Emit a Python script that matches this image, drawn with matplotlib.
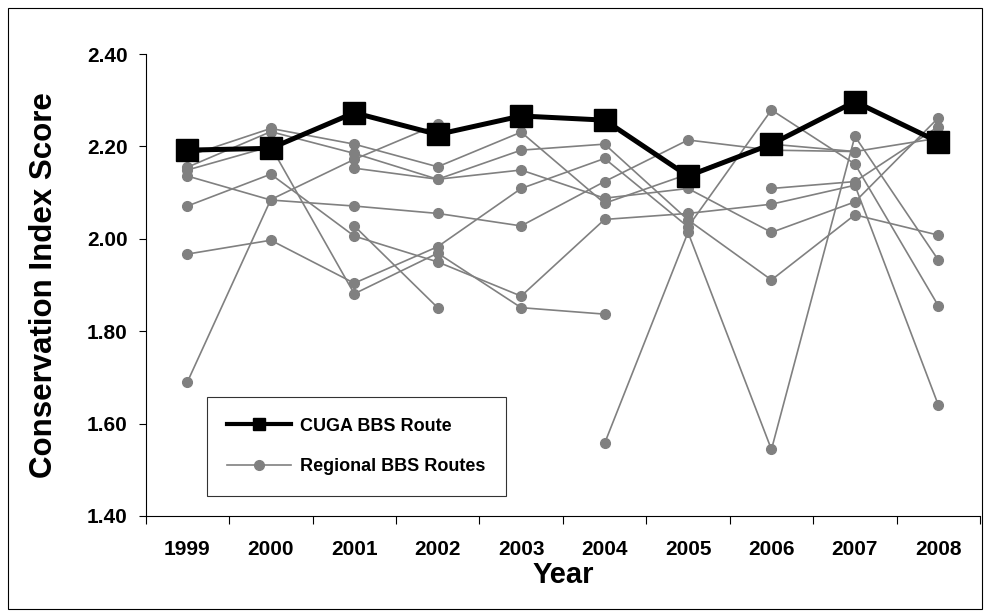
import numpy as np
import matplotlib
matplotlib.use("Agg")
import matplotlib.pyplot as plt
from matplotlib.patches import Rectangle

years = ["1999", "2000", "2001", "2002", "2003", "2004", "2005", "2006", "2007", "2008"]

# CUGA route
cuga = [2.192, 2.196, 2.273, 2.226, 2.266, 2.257, 2.136, 2.205, 2.297, 2.210]

# Regional routes (None = no survey that year)
route_a = [1.690, 2.085, 2.172, 2.248, None, None, None, None, None, None]
route_b = [2.136, 2.084, 2.071, 2.055, 2.028, 2.124, 2.214, 2.192, 2.189, 2.218]
route_c = [2.071, 2.140, 2.006, 1.950, 1.876, 2.042, 2.055, 2.075, 2.116, 1.640]
route_d = [1.967, 1.997, 1.904, 1.983, 2.109, 2.174, 2.026, 2.279, 2.162, 1.855]
route_e = [2.179, 2.239, 2.205, 2.156, 2.231, 2.077, 2.140, 2.205, 2.189, None]
route_f = [2.155, 2.232, 2.185, 2.129, 2.192, 2.205, 2.041, 1.911, 2.052, 2.008]
route_g = [2.149, 2.200, 1.881, 1.969, 1.851, 1.837, None, None, None, None]
route_h = [None, None, 2.153, 2.129, 2.149, 2.088, 2.109, 2.014, 2.080, 2.262]
route_i = [None, None, 2.028, 1.851, None, None, None, None, None, None]
route_k = [None, None, None, None, None, 1.557, 2.014, 1.544, 2.222, 1.954]
route_n = [None, None, None, None, None, None, None, 2.109, 2.124, 2.243]

regional = [route_a, route_b, route_c, route_d, route_e, route_f,
            route_g, route_h, route_i, route_k, route_n]

plt.rcParams["font.family"] = ["Liberation Sans", "DejaVu Sans"]
plt.rcParams["font.weight"] = "bold"

fig = plt.figure(figsize=(9.84, 6.11), dpi=100)
ax = fig.add_axes([0.148, 0.1555, 0.848, 0.756])

x = np.arange(len(years))

for i, r in enumerate(regional):
    vals = np.array([np.nan if v is None else v for v in r], dtype=float)
    ax.plot(x, vals, color="#808080", lw=1.2, marker="o", ms=7,
            mec="#808080", mfc="#808080",
            label="Regional BBS Routes" if i == 0 else None, zorder=2)

ax.plot(x, cuga, color="black", lw=3.6, marker="s", ms=16,
        label="CUGA BBS Route", zorder=3)

ax.set_xlim(-0.5, len(years) - 0.5)
ax.set_ylim(1.40, 2.40)
ax.set_yticks(np.arange(1.40, 2.41, 0.20))
ax.set_yticklabels([f"{v:.2f}" for v in np.arange(1.40, 2.41, 0.20)])
ax.set_xticks(x)
ax.set_xticklabels(years)
ax.set_xticks(np.arange(-0.5, len(years), 1.0), minor=True)

ax.tick_params(axis="x", which="major", length=0, pad=17, labelsize=15)
ax.tick_params(axis="x", which="minor", length=6, width=0.8, direction="out")
ax.tick_params(axis="y", length=5, width=0.8, direction="out", labelsize=15, pad=8)

for lab in ax.get_xticklabels() + ax.get_yticklabels():
    lab.set_fontweight("bold")

ax.spines["top"].set_visible(False)
ax.spines["right"].set_visible(False)
ax.spines["left"].set_linewidth(0.8)
ax.spines["bottom"].set_linewidth(0.8)

ax.set_xlabel("Year", fontsize=21, fontweight="bold", labelpad=2)
ax.set_ylabel("Conservation Index Score", fontsize=22.5, fontweight="bold", labelpad=20)

handles, labels = ax.get_legend_handles_labels()
order = [labels.index("CUGA BBS Route"), labels.index("Regional BBS Routes")]
leg = ax.legend([handles[k] for k in order], [labels[k] for k in order],
                loc="upper left", bbox_to_anchor=(0.073, 0.258),
                frameon=True, fancybox=False, edgecolor="black",
                prop={"weight": "bold", "size": 13},
                handlelength=3.5, borderpad=1.15, labelspacing=1.3,
                handletextpad=0.5, borderaxespad=0)
leg.get_frame().set_linewidth(0.8)
for h in leg.legend_handles[:1]:
    h.set_markersize(9)
    h.set_linewidth(3)

# outer chart border
fig.patches.append(Rectangle((8 / 984, 2 / 611), 974 / 984, 601 / 611,
                             transform=fig.transFigure, fill=False,
                             edgecolor="black", lw=0.8))

fig.savefig("out.png", dpi=100)
